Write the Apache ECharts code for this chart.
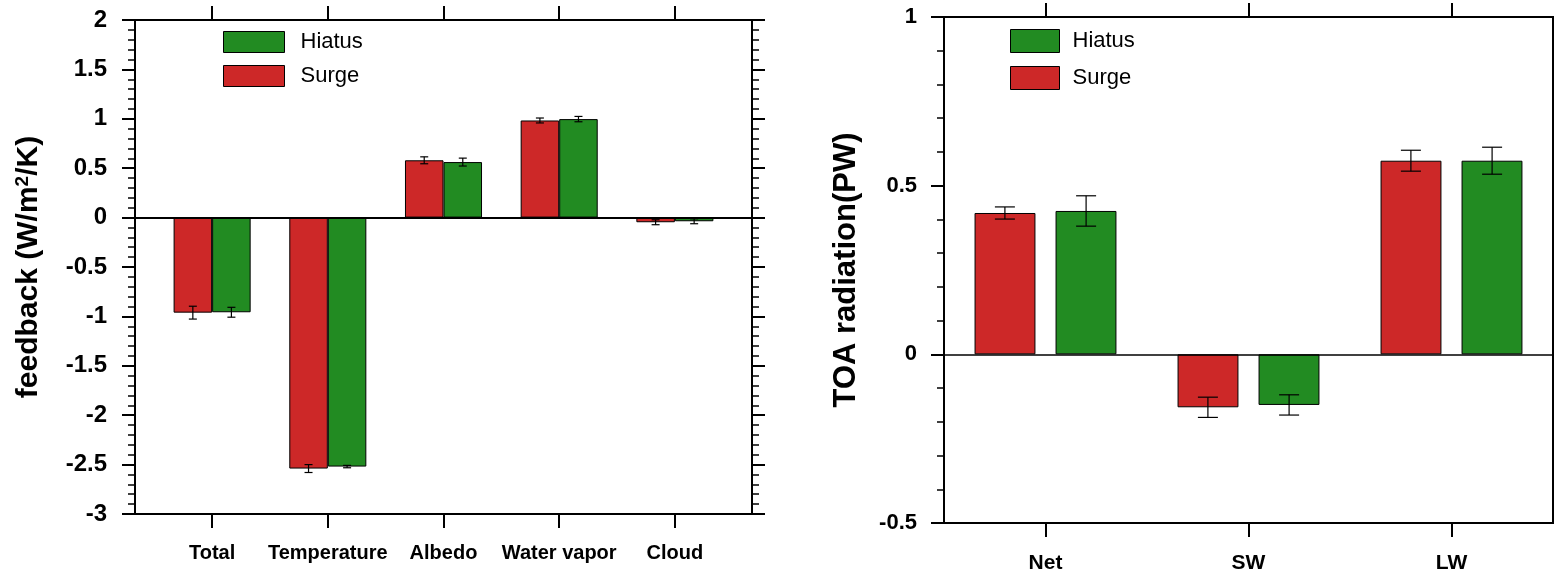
<!DOCTYPE html>
<html>
<head>
<meta charset="utf-8">
<script src="https://cdn.jsdelivr.net/npm/echarts@6/dist/echarts.min.js"></script>
<style>html,body{margin:0;padding:0;background:#fff}#c{width:1554px;height:574px}</style>
</head>
<body>
<div id="c"></div>
<script>
// ---- data: left panel (feedback, W/m2/K) ----
const cats1 = ['Total', 'Temperature', 'Albedo', 'Water vapor', 'Cloud'];
const surge1 = [-0.962, -2.54, 0.58, 0.983, -0.047];
const hiatus1 = [-0.958, -2.52, 0.562, 0.997, -0.037];
const surgeErr1 = [0.065, 0.04, 0.035, 0.025, 0.025];
const hiatusErr1 = [0.05, 0.012, 0.04, 0.027, 0.025];
const yTicks1 = [-3, 2, 0.5];
// ---- data: right panel (TOA radiation, PW) ----
const cats2 = ['Net', 'SW', 'LW'];
const surge2 = [0.419, -0.157, 0.574];
const hiatus2 = [0.425, -0.150, 0.574];
const surgeErr2 = [0.018, 0.03, 0.031];
const hiatusErr2 = [0.045, 0.03, 0.04];
const yTicks2 = [-0.5, 1, 0.5];

const RED = '#cd2828';
const GREEN = '#228b22';
const FONT = 'Liberation Sans';

const chart = echarts.init(document.getElementById('c'), null, {renderer: 'canvas'});

function xAxes(gridIndex, min, max, cats, margin, fs) {
  const vals = cats.map((c, i) => i + 1);
  const base = {
    type: 'value', gridIndex, min, max,
    splitLine: {show: false},
    axisLine: {show: true, onZero: false, lineStyle: {color: '#000', width: 2}},
    axisTick: {show: true, customValues: vals, length: 14, lineStyle: {color: '#000', width: 2}},
    minorTick: {show: false}
  };
  return [
    Object.assign({}, base, {position: 'bottom',
      axisLabel: {show: true, customValues: vals, margin,
        fontFamily: FONT, fontWeight: 'bold', fontSize: fs, color: '#000',
        formatter: v => cats[Math.round(v) - 1] || ''}}),
    Object.assign({}, base, {position: 'top', axisLabel: {show: false}})
  ];
}
function yAxes(gridIndex, ticks, name, nameGap, margin, fs, nfs, nameRich) {
  const base = {
    type: 'value', gridIndex, min: ticks[0], max: ticks[1], interval: ticks[2],
    splitLine: {show: false},
    axisLine: {show: true, onZero: false, lineStyle: {color: '#000', width: 2}},
    axisTick: {show: true, length: 13, lineStyle: {color: '#000', width: 2}},
    minorTick: {show: true, splitNumber: 5, length: 7, lineStyle: {color: '#000', width: 1.5}}
  };
  return [
    Object.assign({}, base, {position: 'left', name, nameLocation: 'middle', nameGap,
      nameTextStyle: {fontFamily: FONT, fontWeight: 'bold', fontSize: nfs, color: '#000', rich: nameRich},
      axisLabel: {show: true, margin, fontFamily: FONT, fontWeight: 'bold', fontSize: fs, color: '#000'}}),
    Object.assign({}, base, {position: 'right', axisLabel: {show: false}})
  ];
}
function barSeries(name, vals, color, xi, yi, bw, gap, zero) {
  const s = {
    name, type: 'bar', xAxisIndex: xi, yAxisIndex: yi,
    data: vals.map((v, i) => [i + 1, v]),
    barWidth: bw, barGap: gap,
    itemStyle: {color, borderColor: '#000', borderWidth: 1},
    emphasis: {disabled: true}, animation: false
  };
  if (zero) {
    s.markLine = {symbol: 'none', silent: true, label: {show: false}, animation: false,
      lineStyle: {color: '#000', width: zero, type: 'solid'}, data: [{yAxis: 0}]};
  }
  return s;
}
function errSeries(name, vals, errs, xi, yi, off, cap) {
  return {
    name, type: 'custom', xAxisIndex: xi, yAxisIndex: yi, z: 5, animation: false,
    encode: {x: 0, y: 1},
    data: vals.map((v, i) => [i + 1, v, errs[i]]),
    renderItem: (params, api) => {
      const x = api.value(0) + off, c = api.value(1), e = api.value(2);
      const t = api.coord([x, c + e]), b = api.coord([x, c - e]);
      const st = {stroke: '#000', lineWidth: 1.2};
      return {type: 'group', children: [
        {type: 'line', shape: {x1: t[0], y1: t[1], x2: b[0], y2: b[1]}, style: st},
        {type: 'line', shape: {x1: t[0] - cap / 2, y1: t[1], x2: t[0] + cap / 2, y2: t[1]}, style: st},
        {type: 'line', shape: {x1: b[0] - cap / 2, y1: b[1], x2: b[0] + cap / 2, y2: b[1]}, style: st}
      ]};
    }
  };
}

const legendBase = {
  orient: 'vertical', icon: 'rect', padding: 0,
  data: ['Hiatus', 'Surge'],
  selectedMode: false,
  itemStyle: {borderColor: '#000', borderWidth: 1}
};

const option = {
  backgroundColor: '#fff',
  animation: false,
  grid: [
    {left: 135, top: 20, width: 617, height: 494},
    {left: 944, top: 17, width: 609, height: 506}
  ],
  legend: [
    Object.assign({}, legendBase, {left: 223, top: 31, itemWidth: 61, itemHeight: 21, itemGap: 12,
      textStyle: {fontFamily: FONT, fontSize: 22, color: '#000', padding: [0, 0, 0, 11]}}),
    Object.assign({}, legendBase, {left: 1010, top: 29, itemWidth: 49, itemHeight: 23, itemGap: 13,
      textStyle: {fontFamily: FONT, fontSize: 22, color: '#000', padding: [0, 0, 0, 8]}})
  ],
  xAxis: [].concat(xAxes(0, 1 / 3, 17 / 3, cats1, 29, 20), xAxes(1, 0.5, 3.5, cats2, 30, 21)),
  yAxis: [].concat(
    yAxes(0, yTicks1, 'feedback (W/m{sup|2}/K)', 91, 28, 24, 30,
      {sup: {fontSize: 19, fontWeight: 'bold', fontFamily: FONT, verticalAlign: 'top', padding: [0, 0, 12, 0]}}),
    yAxes(1, yTicks2, 'TOA radiation(PW)', 82, 27, 22, 31, {})
  ),
  series: [
    barSeries('Surge', surge1, RED, 0, 0, '33.3%', '0%', 2),
    barSeries('Hiatus', hiatus1, GREEN, 0, 0, '33.3%', '0%'),
    errSeries('Surge err', surge1, surgeErr1, 0, 0, -1 / 6, 8),
    errSeries('Hiatus err', hiatus1, hiatusErr1, 0, 0, 1 / 6, 8),
    barSeries('Surge', surge2, RED, 2, 2, '30%', '33%', 1.5),
    barSeries('Hiatus', hiatus2, GREEN, 2, 2, '30%', '33%'),
    errSeries('Surge err', surge2, surgeErr2, 2, 2, -0.2, 20),
    errSeries('Hiatus err', hiatus2, hiatusErr2, 2, 2, 0.2, 20)
  ]
};
chart.setOption(option);
</script>
</body>
</html>
